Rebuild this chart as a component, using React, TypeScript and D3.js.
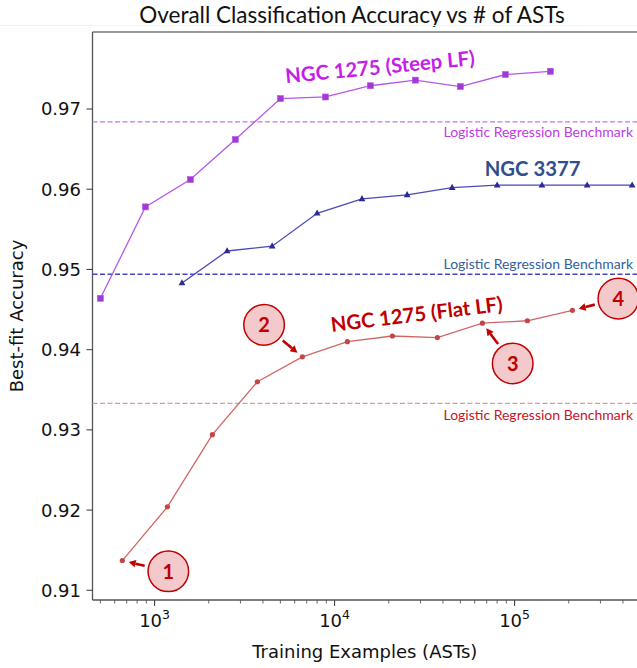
import { scaleLog, scaleLinear, line as d3line } from "d3";

// series (x = training examples, y = best-fit accuracy)
const steepX = [500, 890, 1580, 2810, 5000, 8890, 15800, 28100, 50000, 88900, 158000];
const steepY = [0.9464, 0.9578, 0.9612, 0.9662, 0.9713, 0.9715, 0.9729, 0.9736, 0.9728, 0.9743, 0.9747];
const n3377X = [1420, 2530, 4500, 8000, 14200, 25300, 45000, 80000, 142000, 253000, 450000];
const n3377Y = [0.9483, 0.9523, 0.9529, 0.9570, 0.9588, 0.9593, 0.9602, 0.9605, 0.9605, 0.9605, 0.9605];
const flatX = [662, 1178, 2095, 3725, 6625, 11780, 20950, 37250, 66250, 117800, 209500];
const flatY = [0.9137, 0.9204, 0.9294, 0.9360, 0.9391, 0.9410, 0.9417, 0.9415, 0.9433, 0.9436, 0.9449];

const benchSteep = 0.9684;
const bench3377 = 0.9494;
const benchFlat = 0.9333;

const yTicks = [0.91, 0.92, 0.93, 0.94, 0.95, 0.96, 0.97];
const xTicks = [1000, 10000, 100000];
const xTickExp = ["3", "4", "5"];

// numbered callouts on the flat-LF series: point index, circle offset (px)
const callouts = [
  { label: "1", idx: 0, dx: 46, dy: 10.7 },
  { label: "2", idx: 4, dx: -38.3, dy: -32 },
  { label: "3", idx: 8, dx: 30.3, dy: 40.3 },
  { label: "4", idx: 10, dx: 46, dy: -11.7 },
];

const W = 637, H = 668;
const L = 92.5, T = 32, B = 600;
const x = scaleLog().domain([452, 500000]).range([L, L + 180 * Math.log10(500000 / 452)]);
const y = scaleLinear().domain([0.90879, 0.9796]).range([B, T]);
const R = W + 4;

const MPL = "'DejaVu Sans', sans-serif";
const PPT = "Lato, 'Open Sans', sans-serif";

type P = [number, number];
const path = (xs: number[], ys: number[]) =>
  d3line<P>().x(d => x(d[0])).y(d => y(d[1]))(xs.map((v, i) => [v, ys[i]] as P)) ?? "";

function minorTicks() {
  const out: number[] = [];
  for (let e = 2; e <= 5; e++)
    for (let k = 2; k <= 9; k++) {
      const v = k * Math.pow(10, e);
      if (x(v) > L && x(v) < W) out.push(v);
    }
  return out;
}

function Arrow({ x1, y1, x2, y2, color }: { x1: number; y1: number; x2: number; y2: number; color: string }) {
  const a = Math.atan2(y2 - y1, x2 - x1);
  const hl = 7, hw = 3.8;
  const bx = x2 - hl * Math.cos(a), by = y2 - hl * Math.sin(a);
  const px = -Math.sin(a) * hw, py = Math.cos(a) * hw;
  return (
    <g>
      <line x1={x1} y1={y1} x2={bx} y2={by} stroke={color} strokeWidth={2.6} />
      <path d={`M${x2},${y2}L${bx + px},${by + py}L${bx - px},${by - py}Z`} fill={color} />
    </g>
  );
}

export default function App() {
  const red = "#c00000";
  return (
    <svg width={W} height={H} style={{ position: "absolute", left: 0, top: 0, background: "#fff" }}>
      <text x={352} y={23} textAnchor="middle" fontFamily={PPT} fontSize={22.5} fill="#111">
        Overall Classification Accuracy vs # of ASTs
      </text>
      <line x1={0} x2={W} y1={25.5} y2={25.5} stroke="#f2f2f2" />

      {/* frame */}
      <line x1={L} x2={R} y1={T} y2={T} stroke="#777" strokeWidth={1.3} />
      <line x1={L} x2={L} y1={T} y2={B} stroke="#555" strokeWidth={1.3} />
      <line x1={L} x2={R} y1={B} y2={B} stroke="#555" strokeWidth={1.3} />

      {yTicks.map(t => (
        <g key={t} transform={`translate(0,${y(t)})`}>
          <line x1={L - 6} x2={L} stroke="#444" strokeWidth={1.1} />
          <text x={L - 11.5} dy="0.36em" textAnchor="end" fontFamily={MPL} fontSize={18} fill="#111">
            {t.toFixed(2)}
          </text>
        </g>
      ))}
      {minorTicks().map(t => (
        <line key={t} x1={x(t)} x2={x(t)} y1={B} y2={B + 3.5} stroke="#555" strokeWidth={0.9} />
      ))}
      {xTicks.map((t, i) => (
        <g key={t} transform={`translate(${x(t)},0)`}>
          <line y1={B} y2={B + 6} stroke="#444" strokeWidth={1.1} />
          <text y={626.7} textAnchor="middle" fontFamily={MPL} fontSize={18} fill="#111">
            10<tspan dy={-7.5} fontSize={12.5}>{xTickExp[i]}</tspan>
          </text>
        </g>
      ))}
      <text x={(L + W) / 2} y={657.5} textAnchor="middle" fontFamily={MPL} fontSize={18} fill="#111">
        Training Examples (ASTs)
      </text>
      <text transform={`translate(23,${(T + B) / 2}) rotate(-90)`} textAnchor="middle" fontFamily={MPL} fontSize={18} fill="#111">
        Best-fit Accuracy
      </text>

      {/* benchmarks */}
      <line x1={L} x2={R} y1={y(benchSteep)} y2={y(benchSteep)} stroke="#c47ae8" strokeWidth={1.3} strokeDasharray="5 2.5" />
      <line x1={L} x2={R} y1={y(bench3377)} y2={y(bench3377)} stroke="#4646c8" strokeWidth={1.3} strokeDasharray="5 2.5" />
      <line x1={L} x2={R} y1={y(benchFlat)} y2={y(benchFlat)} stroke="#de9a9a" strokeWidth={1.3} strokeDasharray="5 2.5" />
      <text x={633} y={y(benchSteep) + 15.5} textAnchor="end" fontFamily={PPT} fontSize={14} fill="#c03ae6">Logistic Regression Benchmark</text>
      <text x={633} y={y(bench3377) - 5.7} textAnchor="end" fontFamily={PPT} fontSize={14} fill="#35609e">Logistic Regression Benchmark</text>
      <text x={633} y={y(benchFlat) + 16.3} textAnchor="end" fontFamily={PPT} fontSize={14} fill="#c8141e">Logistic Regression Benchmark</text>

      {/* steep LF */}
      <path d={path(steepX, steepY)} fill="none" stroke="#b458ea" strokeWidth={1.3} />
      {steepX.map((v, i) => (
        <rect key={v} x={x(v) - 3} y={y(steepY[i]) - 3} width={6} height={6} fill="#a03ad2" stroke="#b458ea" strokeWidth={0.6} />
      ))}
      {/* NGC 3377 */}
      <path d={path(n3377X, n3377Y)} fill="none" stroke="#4a4ab8" strokeWidth={1.3} />
      {n3377X.map((v, i) => {
        const cx = x(v), cy = y(n3377Y[i]);
        return <path key={v} d={`M${cx},${cy - 3.8}L${cx + 3.4},${cy + 2.3}L${cx - 3.4},${cy + 2.3}Z`} fill="#2b2b96" />;
      })}
      {/* flat LF */}
      <path d={path(flatX, flatY)} fill="none" stroke="#d26666" strokeWidth={1.3} />
      {flatX.map((v, i) => (
        <circle key={v} cx={x(v)} cy={y(flatY[i])} r={2.6} fill="#c24646" />
      ))}

      {/* series labels */}
      <text transform={`translate(${x(18010)},${y(0.97435)}) rotate(-5.5)`} textAnchor="middle" fontFamily={PPT} fontWeight="bold" fontSize={20.3} fill="#c41ee8">
        NGC 1275 (Steep LF)
      </text>
      <text x={x(125900)} y={y(0.9617)} textAnchor="middle" fontFamily={PPT} fontWeight="bold" fontSize={20.3} fill="#2f4e8c">
        NGC 3377
      </text>
      <text transform={`translate(${x(28900)},${y(0.94352)}) rotate(-7)`} textAnchor="middle" fontFamily={PPT} fontWeight="bold" fontSize={20.3} fill={red}>
        NGC 1275 (Flat LF)
      </text>

      {/* callouts */}
      {callouts.map(c => {
        const px = x(flatX[c.idx]), py = y(flatY[c.idx]);
        const cx = px + c.dx, cy = py + c.dy;
        const d = Math.hypot(c.dx, c.dy), ux = c.dx / d, uy = c.dy / d;
        const r = 20.3;
        return (
          <g key={c.label}>
            <Arrow x1={cx - ux * (r + 4)} y1={cy - uy * (r + 4)} x2={px + ux * 6.5} y2={py + uy * 6.5} color={red} />
            <circle cx={cx} cy={cy} r={r} fill="#f3c9cb" stroke={red} strokeWidth={1.5} />
            <text x={cx} y={cy} dy="0.36em" textAnchor="middle" fontFamily={PPT} fontWeight="bold" fontSize={20} fill={red}>
              {c.label}
            </text>
          </g>
        );
      })}
    </svg>
  );
}
